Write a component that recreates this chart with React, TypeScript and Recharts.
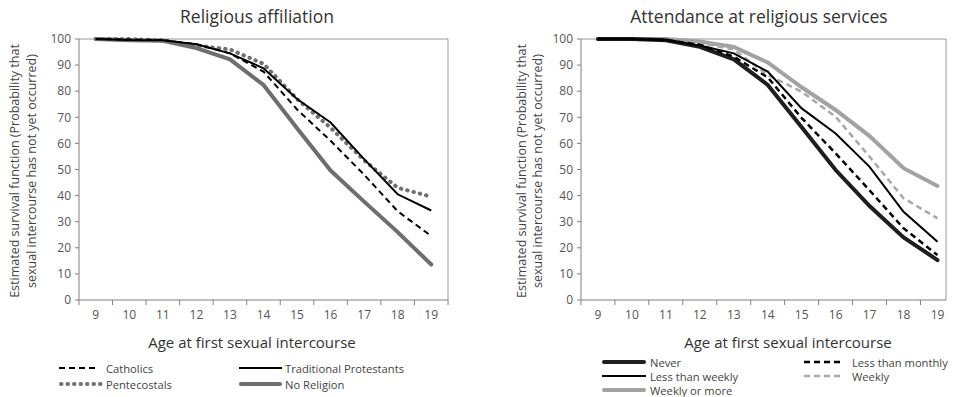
import React from 'react';
import { LineChart, Line, XAxis, YAxis, ReferenceLine } from 'recharts';

const ages = [9, 10, 11, 12, 13, 14, 15, 16, 17, 18, 19];
const yTicks = [0, 10, 20, 30, 40, 50, 60, 70, 80, 90, 100];

// Religious affiliation
const catholics = [100, 99.8, 99.6, 98, 94.5, 87.5, 73, 61, 48, 34, 24.5];
const protestants = [100, 99.6, 99.5, 98, 94.5, 88.8, 77, 68, 54, 40.5, 34.3];
const pentecostals = [100, 100, 99.5, 97.5, 96, 90.5, 77, 66, 53.5, 43, 39.6];
const noReligion = [100, 99.5, 99.3, 96.5, 92.2, 82.4, 65.8, 49.6, 37.7, 26, 13.6];

// Attendance at religious services
const never = [100, 100, 99.5, 97, 92.2, 82.4, 66.2, 49.8, 36, 24, 15.3];
const lessThanWeekly = [100, 100, 99.6, 97.5, 94.5, 87.5, 73.4, 63.8, 51, 33.8, 22.3];
const lessThanMonthly = [100, 100, 99.6, 97.8, 93.2, 85.3, 69.7, 56.2, 42, 27.5, 17.2];
const weekly = [100, 100, 99.8, 98.5, 96, 86.2, 79.8, 70.2, 54.9, 39, 31.3];
const weeklyOrMore = [100, 100, 100, 99, 97, 91, 81.5, 72.8, 62.8, 50.5, 43.7];

const leftData = ages.map((age, i) => ({
  age,
  catholics: catholics[i],
  protestants: protestants[i],
  pentecostals: pentecostals[i],
  noReligion: noReligion[i],
}));

const rightData = ages.map((age, i) => ({
  age,
  never: never[i],
  lessThanWeekly: lessThanWeekly[i],
  lessThanMonthly: lessThanMonthly[i],
  weekly: weekly[i],
  weeklyOrMore: weeklyOrMore[i],
}));

type Style = { key: string; name: string; color: string; width: number; dash?: string; cap?: 'round' | 'butt' };

const leftSeries: Style[] = [
  { key: 'noReligion', name: 'No Religion', color: '#6e6e6e', width: 4, cap: 'round' },
  { key: 'pentecostals', name: 'Pentecostals', color: '#707070', width: 4, dash: '0.5 6', cap: 'round' },
  { key: 'protestants', name: 'Traditional Protestants', color: '#000', width: 2 },
  { key: 'catholics', name: 'Catholics', color: '#000', width: 2, dash: '6 4' },
];

const rightSeries: Style[] = [
  { key: 'weeklyOrMore', name: 'Weekly or more', color: '#a2a2a2', width: 4, cap: 'round' },
  { key: 'weekly', name: 'Weekly', color: '#a8a8a8', width: 2.5, dash: '6 4' },
  { key: 'never', name: 'Never', color: '#1e1e1e', width: 4, cap: 'round' },
  { key: 'lessThanWeekly', name: 'Less than weekly', color: '#000', width: 2 },
  { key: 'lessThanMonthly', name: 'Less than monthly', color: '#000', width: 2.5, dash: '6 4' },
];

const FONT = '"Open Sans", sans-serif';
const AXIS = '#808080';
const PLOT_TOP = 39;
const PLOT_BOTTOM = 300;

const BandTick = (props: any) => {
  const { x, y, payload, half, closeLast } = props;
  return (
    <g>
      <line x1={x - half} x2={x - half} y1={PLOT_BOTTOM} y2={PLOT_BOTTOM + 5} stroke={AXIS} />
      {closeLast && payload.value === 19 && (
        <line x1={x + half} x2={x + half} y1={PLOT_BOTTOM} y2={PLOT_BOTTOM + 5} stroke={AXIS} />
      )}
      <text x={x} y={y} dy="0.71em" textAnchor="middle" fill="#555" fontSize={12} fontFamily={FONT}>
        {payload.value}
      </text>
    </g>
  );
};

const Panel = ({ data, series, left, plotLeft, plotRight, xMax, half, closeLast }: any) => (
  <div style={{ position: 'absolute', left, top: 0 }}>
    <LineChart
      width={478}
      height={397}
      data={data}
      margin={{ top: PLOT_TOP, right: 478 - plotRight, bottom: 67, left: plotLeft - 40 }}
    >
      <XAxis
        dataKey="age"
        type="number"
        domain={[8.5, xMax]}
        ticks={ages}
        allowDataOverflow
        height={30}
        stroke={AXIS}
        tickLine={false}
        tickSize={5}
        tickMargin={5}
        tick={<BandTick half={half} closeLast={closeLast} />}
      />
      <YAxis
        type="number"
        domain={[0, 100]}
        ticks={yTicks}
        width={40}
        stroke={AXIS}
        tickSize={4}
        tickMargin={4}
        tick={{ fill: '#555', fontSize: 12, fontFamily: FONT }}
      />
      <ReferenceLine y={100} stroke="#999" />
      <ReferenceLine x={xMax} stroke="#999" />
      {series.map((s: Style) => (
        <Line
          key={s.key}
          dataKey={s.key}
          type="linear"
          stroke={s.color}
          strokeWidth={s.width}
          strokeDasharray={s.dash}
          strokeLinecap={s.cap || 'butt'}
          dot={false}
          isAnimationActive={false}
        />
      ))}
    </LineChart>
  </div>
);

const LegendItem = ({ s, x1, x2, y, tx }: any) => (
  <g>
    <line x1={x1} x2={x2} y1={y} y2={y} stroke={s.color} strokeWidth={s.width}
      strokeDasharray={s.dash} strokeLinecap={s.cap || 'butt'} />
    <text x={tx} y={y} dominantBaseline="central" fontSize={11.2} fill="#444" fontFamily={FONT}>{s.name}</text>
  </g>
);

const find = (list: Style[], key: string) => list.find((s) => s.key === key);

const YLabel = ({ x1, x2 }: any) => (
  <g fontSize={12.5} fill="#444" fontFamily={FONT} textAnchor="middle">
    <text x={x1} y={171} transform={`rotate(-90 ${x1} 171)`} dominantBaseline="central">
      Estimated survival function (Probability that
    </text>
    <text x={x2} y={171} transform={`rotate(-90 ${x2} 171)`} dominantBaseline="central">
      sexual intercourse has not yet occurred)
    </text>
  </g>
);

export default function App() {
  return (
    <div style={{ position: 'absolute', left: 0, top: 0, width: 956, height: 397, background: '#fff', overflow: 'hidden' }}>
      <Panel data={leftData} series={leftSeries} left={0} plotLeft={79} plotRight={448} xMax={19.5} half={16.8} closeLast />
      <Panel data={rightData} series={rightSeries} left={478} plotLeft={103} plotRight={468} xMax={19.25} half={17.05} closeLast={false} />
      <svg width={956} height={397} style={{ position: 'absolute', left: 0, top: 0, pointerEvents: 'none' }}>
        <g fontFamily={FONT} fill="#333" textAnchor="middle">
          <text x={257} y={16} fontSize={17.5} dominantBaseline="central">Religious affiliation</text>
          <text x={759} y={16} fontSize={17.5} dominantBaseline="central">Attendance at religious services</text>
          <text x={252} y={342} fontSize={15} dominantBaseline="central">Age at first sexual intercourse</text>
          <text x={788} y={342} fontSize={15} dominantBaseline="central">Age at first sexual intercourse</text>
        </g>
        <YLabel x1={14} x2={31} />
        <YLabel x1={521} x2={537} />
        <LegendItem s={find(leftSeries, 'catholics')} x1={59} x2={99} y={368} tx={106} />
        <LegendItem s={find(leftSeries, 'protestants')} x1={239} x2={282} y={368} tx={285} />
        <LegendItem s={find(leftSeries, 'pentecostals')} x1={61} x2={102} y={384} tx={106} />
        <LegendItem s={find(leftSeries, 'noReligion')} x1={241} x2={280} y={384} tx={285} />
        <LegendItem s={find(rightSeries, 'never')} x1={604} x2={644} y={362} tx={650} />
        <LegendItem s={find(rightSeries, 'lessThanWeekly')} x1={602} x2={646} y={376} tx={650} />
        <LegendItem s={find(rightSeries, 'weeklyOrMore')} x1={604} x2={644} y={390} tx={650} />
        <LegendItem s={find(rightSeries, 'lessThanMonthly')} x1={804} x2={843} y={362} tx={852} />
        <LegendItem s={find(rightSeries, 'weekly')} x1={804} x2={843} y={376} tx={852} />
      </svg>
    </div>
  );
}
